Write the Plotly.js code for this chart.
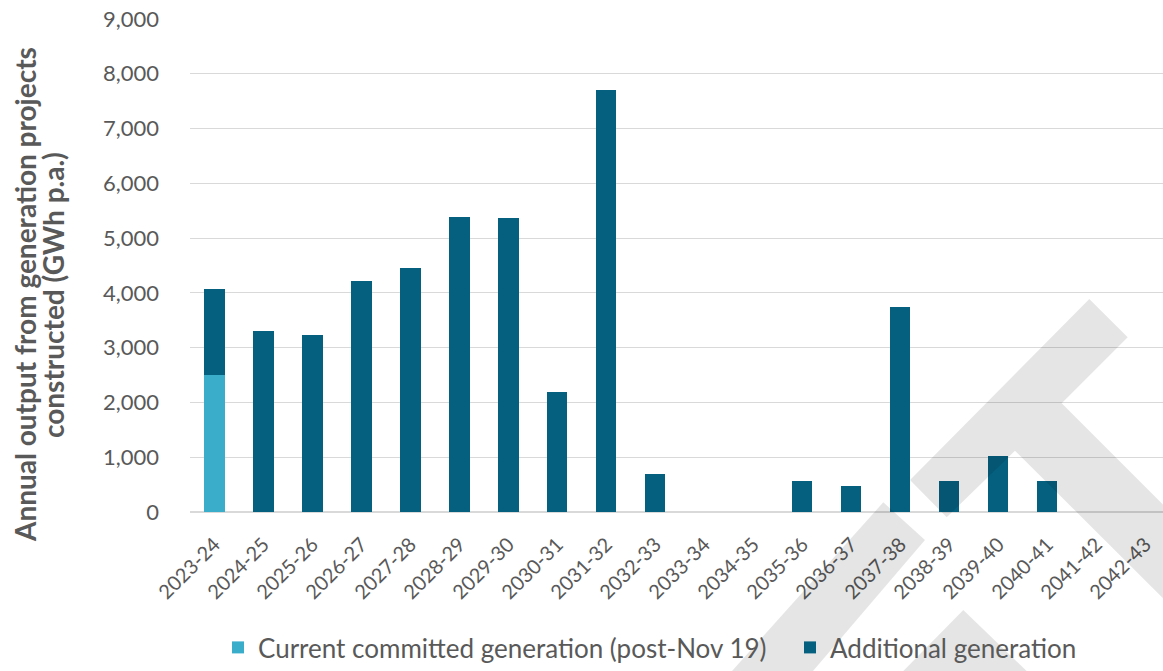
<!DOCTYPE html>
<html>
<head>
<meta charset="utf-8">
<script src="https://cdn.plot.ly/plotly-3.0.1.min.js"></script>
<style>
  html, body { margin: 0; padding: 0; background: #ffffff; overflow: hidden; }
  #chart { width: 1163px; height: 671px; }
</style>
</head>
<body>
<div id="chart"></div>
<script>
// ---- Data ----
const years = ["2023-24","2024-25","2025-26","2026-27","2027-28","2028-29","2029-30","2030-31","2031-32","2032-33",
               "2033-34","2034-35","2035-36","2036-37","2037-38","2038-39","2039-40","2040-41","2041-42","2042-43"];
const committed = [2500, 0, 0, 0, 0, 0, 0, 0, 0, 0, 0, 0, 0, 0, 0, 0, 0, 0, 0, 0];
const additional = [1570, 3310, 3230, 4220, 4450, 5380, 5360, 2190, 7700, 690, 0, 0, 560, 480, 3740, 560, 1020, 560, 0, 0];
const seriesNames = ["Current committed generation (post-Nov 19)", "Additional generation"];
const yTitleLines = ["Annual output from generation projects", "constructed (GWh p.a.)"];

// ---- Layout geometry (pixels) ----
const W = 1163, H = 671;
const M = { l: 190, r: 0, t: 19, b: 159 };
const plotW = W - M.l - M.r, plotH = H - M.t - M.b;
const px = x => (x - M.l) / plotW;
const py = y => (H - M.b - y) / plotH;
function path(pts) {
  return pts.map((p, i) => (i ? "L" : "M") + px(p[0]).toFixed(5) + "," + py(p[1]).toFixed(5)).join(" ") + " Z";
}

// decorative watermark (drawn above bars, semi-transparent)
const wmFill = "rgba(0,0,0,0.1)";
const watermark = [
  [[910,480],[1089.3,299],[1127.7,337.3],[1061.7,403.3],[1210,551.6],[1210,645],[1015,450.7],[946.7,517.3]],
  [[732,671],[883.3,502.3],[925,540],[813,671]],
  [[903.3,671],[963.3,610],[1026.7,671]]
].map(pts => ({
  type: "path", xref: "paper", yref: "paper", path: path(pts),
  fillcolor: wmFill, line: { width: 0 }, layer: "above"
}));

const textColor = "#595959";
const font = "Lato, 'Open Sans', sans-serif";

const traces = [
  { type: "bar", x: years, y: committed, name: seriesNames[0], marker: { color: "#3AADCB" }, legend: "legend" },
  { type: "bar", x: years, y: additional, name: seriesNames[1], marker: { color: "#05607F" }, legend: "legend2" }
];

const legendBase = {
  orientation: "h", xanchor: "left", y: py(648), yanchor: "middle",
  font: { size: 26, color: textColor, family: font },
  bgcolor: "rgba(0,0,0,0)"
};

const titleX = [25, 53];
const layout = {
  width: W, height: H,
  margin: M,
  paper_bgcolor: "#ffffff", plot_bgcolor: "#ffffff",
  barmode: "stack",
  bargap: 0.59,
  font: { family: font, color: textColor },
  showlegend: true,
  legend: Object.assign({}, legendBase, { x: px(218) }),
  legend2: Object.assign({}, legendBase, { x: px(790) }),
  xaxis: {
    type: "category",
    range: [-0.5, 19.36],
    tickangle: -45,
    tickfont: { size: 20, color: textColor, family: font },
    ticklabelstandoff: 16,
    showgrid: false,
    showline: false,
    ticks: "",
    zeroline: false,
    fixedrange: true
  },
  yaxis: {
    range: [0, 9000],
    tickvals: [0,1000,2000,3000,4000,5000,6000,7000,8000,9000],
    tickformat: ",d",
    tickfont: { size: 22, color: textColor, family: font },
    showgrid: true, gridcolor: "#d9d9d9", gridwidth: 1,
    zeroline: true, zerolinecolor: "#d9d9d9", zerolinewidth: 2,
    showline: false, ticks: "",
    ticklabelstandoff: 30,
    fixedrange: true
  },
  annotations: yTitleLines.map((t, i) => ({
    text: "<b>" + t + "</b>",
    xref: "paper", yref: "paper",
    x: px(titleX[i]), y: py(295),
    xanchor: "center", yanchor: "middle",
    textangle: -90, showarrow: false,
    font: { size: 28, color: textColor, family: font, weight: "bold" }
  })),
  shapes: watermark
};

Plotly.newPlot("chart", traces, layout, { displayModeBar: false, staticPlot: true });
</script>
</body>
</html>
